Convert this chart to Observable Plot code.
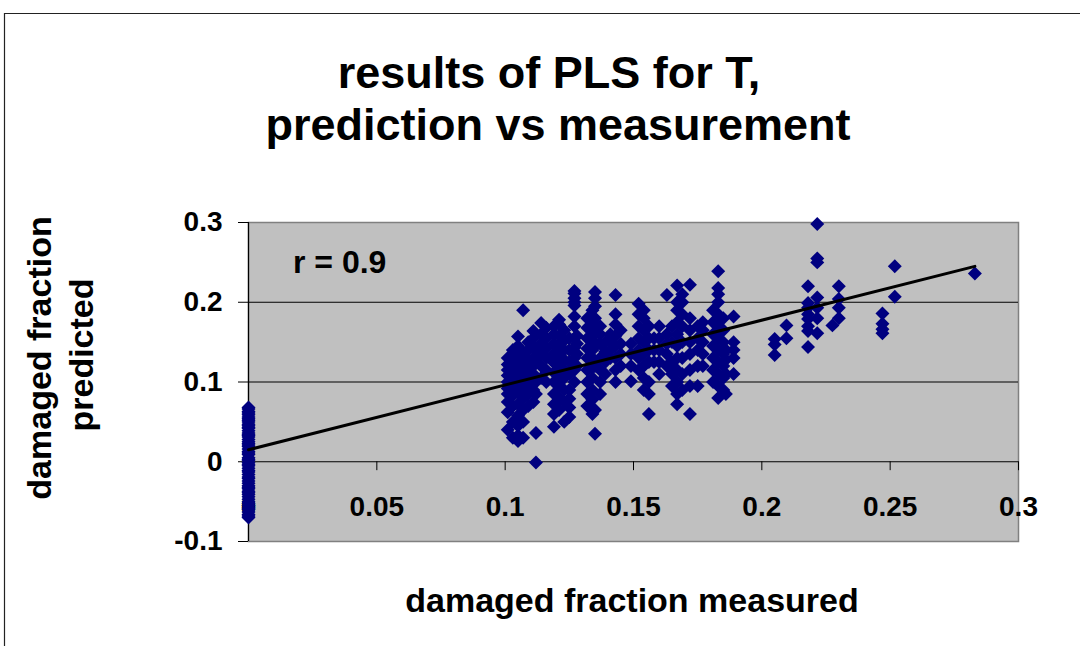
<!DOCTYPE html>
<html>
<head>
<meta charset="utf-8">
<script src="https://cdn.jsdelivr.net/npm/d3@7"></script>
<script src="https://cdn.jsdelivr.net/npm/@observablehq/plot@0.6"></script>
<style>
  html, body { margin: 0; padding: 0; background: #ffffff; }
  #chart { width: 1080px; height: 646px; overflow: hidden; }
</style>
</head>
<body>
<div id="chart"></div>
<script>
// ---- data ----
const titleLines = ["results of PLS for T,", "prediction vs measurement"];
const xLabel = "damaged fraction measured";
const yLabelLines = ["damaged fraction", "predicted"];
const annotation = "r = 0.9";

const xTicks = [0, 0.05, 0.1, 0.15, 0.2, 0.25, 0.3];
const xTickLabels = ["0", "0.05", "0.1", "0.15", "0.2", "0.25", "0.3"];
const yTicks = [-0.1, 0, 0.1, 0.2, 0.3];
const yTickLabels = ["-0.1", "0", "0.1", "0.2", "0.3"];
const gridY = [0.1, 0.2];

// measured value of each column of points
const columnMeasured = [
  0,
  0.101, 0.103, 0.105, 0.107, 0.109, 0.111, 0.112, 0.114, 0.116,
  0.119, 0.121, 0.123, 0.125, 0.127, 0.128,
  0.132, 0.134, 0.135, 0.137, 0.139, 0.141, 0.143, 0.145,
  0.149, 0.152, 0.154, 0.156, 0.158, 0.160, 0.163, 0.165,
  0.167, 0.169, 0.172, 0.175, 0.177,
  0.181, 0.183, 0.185, 0.186, 0.189,
  0.205, 0.2096, 0.218, 0.2216, 0.2275, 0.230, 0.247, 0.2518, 0.283
];
// predicted values in each column
const columnPredicted = [
  [0.068, 0.066, 0.063, 0.061, 0.059, 0.056, 0.054, 0.052, 0.05, 0.047, 0.045, 0.043, 0.042, 0.039, 0.036, 0.034, 0.033, 0.031,
   0.028, 0.025, 0.023, 0.021, 0.019, 0.016, 0.013, 0.011, 0.009, 0.005, 0.003, 0.002, -0.001, -0.003, -0.005, -0.008, -0.011,
   -0.013, -0.016, -0.019, -0.021, -0.024, -0.027, -0.03, -0.032, -0.034, -0.037, -0.039, -0.041, -0.044, -0.047, -0.05, -0.052,
   -0.055, -0.058, -0.06, -0.063, -0.066, -0.068, -0.07],
  [0.04, 0.062, 0.075, 0.085, 0.092, 0.1, 0.108, 0.115, 0.122, 0.13],
  [0.03, 0.05, 0.07, 0.083, 0.095, 0.104, 0.112, 0.12, 0.128, 0.135, 0.14],
  [0.026, 0.033, 0.045, 0.058, 0.072, 0.088, 0.098, 0.107, 0.117, 0.125, 0.134, 0.145, 0.157],
  [0.03, 0.05, 0.065, 0.08, 0.093, 0.103, 0.11, 0.12, 0.13, 0.138, 0.19],
  [0.07, 0.085, 0.096, 0.105, 0.115, 0.127, 0.14, 0.15],
  [0.075, 0.09, 0.1, 0.11, 0.12, 0.13, 0.145, 0.155, 0.164],
  [-0.001, 0.036, 0.085, 0.1, 0.125, 0.14],
  [0.105, 0.12, 0.135, 0.148, 0.16, 0.174],
  [0.1, 0.115, 0.13, 0.142, 0.155, 0.168],
  [0.044, 0.06, 0.072, 0.085, 0.1, 0.112, 0.124, 0.135, 0.148, 0.16, 0.17],
  [0.065, 0.08, 0.095, 0.11, 0.12, 0.132, 0.145, 0.158, 0.172, 0.178],
  [0.05, 0.075, 0.09, 0.105, 0.115, 0.128, 0.14, 0.152, 0.165],
  [0.056, 0.068, 0.079, 0.09, 0.11, 0.125, 0.14, 0.155],
  [0.1, 0.115, 0.13, 0.143, 0.155, 0.17, 0.182, 0.196, 0.2, 0.205, 0.211, 0.214],
  [0.12, 0.135, 0.148, 0.158],
  [0.07, 0.085, 0.1, 0.115, 0.13, 0.142, 0.155, 0.168, 0.18],
  [0.06, 0.078, 0.09, 0.105, 0.118, 0.13, 0.14, 0.152, 0.165, 0.175, 0.19],
  [0.035, 0.065, 0.12, 0.145, 0.16, 0.18, 0.195, 0.205, 0.213],
  [0.085, 0.1, 0.115, 0.13, 0.148, 0.16, 0.17],
  [0.11, 0.125, 0.138, 0.15],
  [0.13, 0.14, 0.152, 0.16],
  [0.1, 0.115, 0.13, 0.145, 0.158, 0.172, 0.185, 0.209],
  [0.12, 0.135, 0.148, 0.165],
  [0.101, 0.12, 0.135, 0.148],
  [0.115, 0.13, 0.14, 0.155, 0.17, 0.185, 0.198],
  [0.09, 0.105, 0.12, 0.135, 0.15, 0.165, 0.18, 0.19],
  [0.06, 0.085, 0.1, 0.125, 0.14, 0.155, 0.17],
  [0.125, 0.14, 0.155],
  [0.11, 0.125, 0.14, 0.155, 0.17],
  [0.12, 0.135, 0.148, 0.16, 0.209],
  [0.095, 0.11, 0.125, 0.15, 0.17],
  [0.072, 0.085, 0.1, 0.115, 0.13, 0.145, 0.16, 0.175, 0.19, 0.2, 0.221],
  [0.09, 0.11, 0.13, 0.15, 0.17, 0.185, 0.2, 0.21],
  [0.06, 0.095, 0.115, 0.135, 0.15, 0.165, 0.18, 0.222],
  [0.095, 0.12, 0.14, 0.155, 0.17],
  [0.12, 0.135, 0.15, 0.165, 0.175],
  [0.1, 0.115, 0.13, 0.145, 0.16, 0.175, 0.19],
  [0.08, 0.095, 0.11, 0.125, 0.14, 0.155, 0.17, 0.185, 0.2, 0.21, 0.218, 0.239],
  [0.09, 0.105, 0.12, 0.135, 0.15, 0.165, 0.18],
  [0.085, 0.11, 0.128, 0.14],
  [0.11, 0.13, 0.14, 0.15, 0.182],
  [0.134, 0.147, 0.154],
  [0.155, 0.171],
  [0.144, 0.164, 0.17, 0.179, 0.185, 0.193, 0.199, 0.22],
  [0.161, 0.18, 0.193, 0.206, 0.25, 0.255, 0.298],
  [0.171],
  [0.18, 0.193, 0.204, 0.22],
  [0.161, 0.166, 0.173, 0.186],
  [0.207, 0.245],
  [0.236]
];

// trend line end points (as drawn)
const trendMeasured = [0, 0.283];
const trendPredicted = [0.015, 0.245];

// ---- build table ----
const points = columnMeasured.flatMap((m, i) =>
  columnPredicted[i].map(p => ({measured: m, predicted: p})));
const trend = trendMeasured.map((m, i) => ({measured: m, predicted: trendPredicted[i]}));

const FONT = "'Liberation Sans', Arial, Helvetica, sans-serif";

const chart = Plot.plot({
  width: 1080,
  height: 646,
  marginLeft: 248,
  marginRight: 62,
  marginTop: 222,
  marginBottom: 105,
  style: {fontFamily: FONT, background: "white", overflow: "visible"},
  x: {domain: [0, 0.3], axis: null},
  y: {domain: [-0.1, 0.3], axis: null},
  marks: [
    Plot.frame({fill: "#c0c0c0", stroke: "#808080", strokeWidth: 1.5}),
    Plot.ruleY(gridY, {stroke: "#000000", strokeWidth: 1}),
    Plot.ruleY([0], {stroke: "#000000", strokeWidth: 1.2}),
    Plot.ruleX([0], {stroke: "#000000", strokeWidth: 1.2}),
    Plot.axisY({
      ticks: yTicks,
      tickFormat: (d) => yTickLabels[yTicks.indexOf(d)],
      tickSize: 10,
      tickPadding: 16,
      fontSize: 28,
      fontWeight: "bold",
      fill: "#000",
      stroke: "#000",
      label: null
    }),
    Plot.ruleX(xTicks.slice(1), {x: d => d, y1: 0, y2: -0.0112, stroke: "#000", strokeWidth: 1}),
    Plot.text(xTicks, {
      x: d => d, y: 0, dy: 45,
      text: (d, i) => xTickLabels[i],
      fontSize: 28, fontWeight: "bold", fill: "#000", textAnchor: "middle"
    }),
    Plot.dot(points, {
      x: "measured", y: "predicted",
      symbol: "diamond2", r: 6.3, fill: "#000080", stroke: "none"
    }),
    Plot.line(trend, {x: "measured", y: "predicted", stroke: "#000", strokeWidth: 3})
  ]
});

const svg = d3.select(chart);
// outer chart-area frame
svg.append("line").attr("x1", 4).attr("y1", 13.5).attr("x2", 1080).attr("y2", 13.5)
  .attr("stroke", "#222").attr("stroke-width", 1.2);
svg.append("line").attr("x1", 4.5).attr("y1", 13).attr("x2", 4.5).attr("y2", 646)
  .attr("stroke", "#222").attr("stroke-width", 1.2);

const txt = (x, y, s, size, extra) => {
  const t = svg.append("text")
    .attr("x", x).attr("y", y)
    .attr("text-anchor", "middle")
    .attr("font-family", FONT)
    .attr("font-weight", "bold")
    .attr("font-size", size)
    .attr("fill", "#000")
    .text(s);
  if (extra) extra(t);
  return t;
};

txt(549, 88, titleLines[0], 45);
txt(558, 140, titleLines[1], 45);
txt(632, 612, xLabel, 34);
txt(0, 0, yLabelLines[0], 34, t => t.attr("transform", "translate(51,358) rotate(-90)"));
txt(0, 0, yLabelLines[1], 34, t => t.attr("transform", "translate(93,355) rotate(-90)"));
txt(293, 273, annotation, 32, t => t.attr("text-anchor", "start"));

document.getElementById("chart").appendChild(chart);
</script>
</body>
</html>
